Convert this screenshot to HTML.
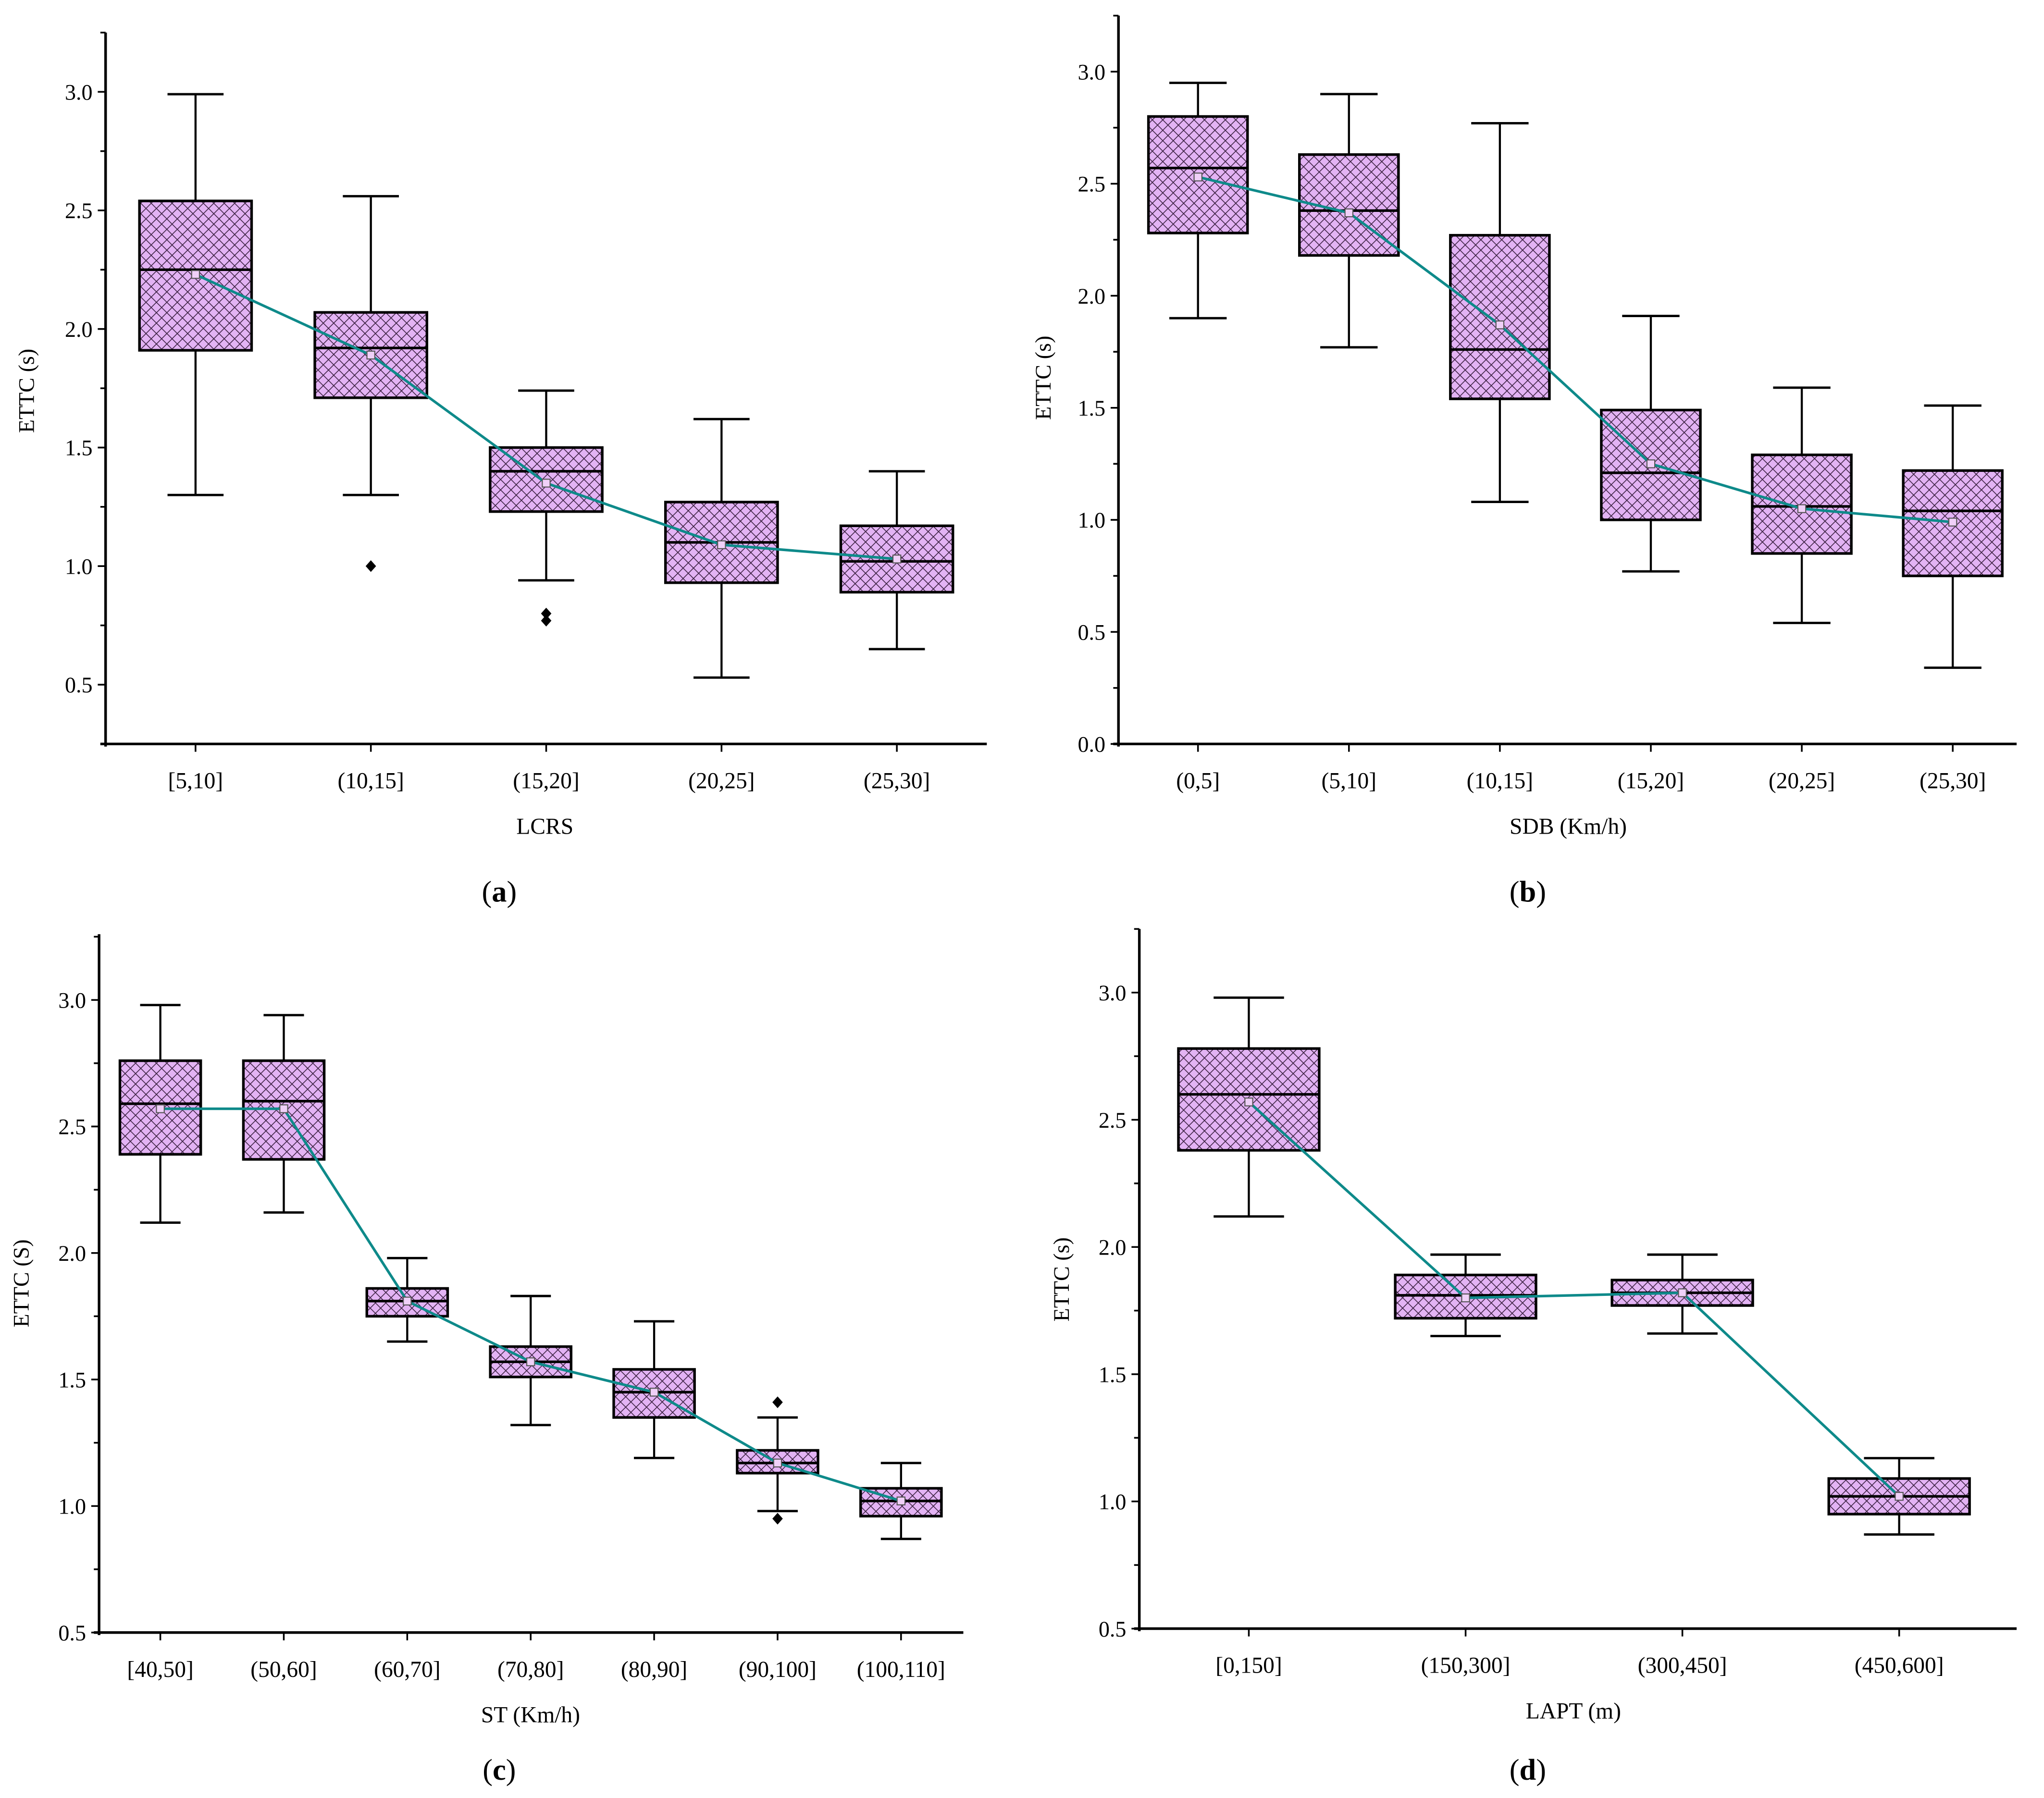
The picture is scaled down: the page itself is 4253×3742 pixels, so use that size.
<!DOCTYPE html>
<html><head><meta charset="utf-8"><style>
html,body{margin:0;padding:0;background:#fff;}
svg{display:block;font-family:"Liberation Serif",serif;}
</style></head><body>
<svg id="fig" width="4253" height="3742" viewBox="0 0 1568 1380" preserveAspectRatio="none" xmlns="http://www.w3.org/2000/svg">
<defs>
<pattern id="hatch" width="8" height="8" patternUnits="userSpaceOnUse">
<rect width="8" height="8" fill="#e3b3f4"/>
<path d="M0,0L8,8M8,0L0,8" stroke="#3a2040" stroke-width="0.6"/>
</pattern>
</defs>
</svg>
<script>
// Panel (a)
const catsA = ["[5,10]","(10,15]","(15,20]","(20,25]","(25,30]"];
const lowA = [1.30,1.30,0.94,0.53,0.65];
const q1A = [1.91,1.71,1.23,0.93,0.89];
const medA = [2.25,1.92,1.40,1.10,1.02];
const q3A = [2.54,2.07,1.50,1.27,1.17];
const highA = [2.99,2.56,1.74,1.62,1.40];
const meanA = [2.23,1.89,1.35,1.09,1.03];
const outA = [[],[1.0],[0.80,0.77],[],[]];
const ticksA = [0.5,1.0,1.5,2.0,2.5,3.0];
// Panel (b)
const catsB = ["(0,5]","(5,10]","(10,15]","(15,20]","(20,25]","(25,30]"];
const lowB = [1.90,1.77,1.08,0.77,0.54,0.34];
const q1B = [2.28,2.18,1.54,1.00,0.85,0.75];
const medB = [2.57,2.38,1.76,1.21,1.06,1.04];
const q3B = [2.80,2.63,2.27,1.49,1.29,1.22];
const highB = [2.95,2.90,2.77,1.91,1.59,1.51];
const meanB = [2.53,2.37,1.87,1.25,1.05,0.99];
const outB = [[],[],[],[],[],[]];
const ticksB = [0.0,0.5,1.0,1.5,2.0,2.5,3.0];
// Panel (c)
const catsC = ["[40,50]","(50,60]","(60,70]","(70,80]","(80,90]","(90,100]","(100,110]"];
const lowC = [2.12,2.16,1.65,1.32,1.19,0.98,0.87];
const q1C = [2.39,2.37,1.75,1.51,1.35,1.13,0.96];
const medC = [2.59,2.60,1.81,1.57,1.45,1.17,1.02];
const q3C = [2.76,2.76,1.86,1.63,1.54,1.22,1.07];
const highC = [2.98,2.94,1.98,1.83,1.73,1.35,1.17];
const meanC = [2.57,2.57,1.81,1.57,1.45,1.17,1.02];
const outC = [[],[],[],[],[],[1.41,0.95],[]];
const ticksC = [0.5,1.0,1.5,2.0,2.5,3.0];
// Panel (d)
const catsD = ["[0,150]","(150,300]","(300,450]","(450,600]"];
const lowD = [2.12,1.65,1.66,0.87];
const q1D = [2.38,1.72,1.77,0.95];
const medD = [2.60,1.81,1.82,1.02];
const q3D = [2.78,1.89,1.87,1.09];
const highD = [2.98,1.97,1.97,1.17];
const meanD = [2.57,1.80,1.82,1.02];
const outD = [[],[],[],[]];
const ticksD = [0.5,1.0,1.5,2.0,2.5,3.0];

const NS="http://www.w3.org/2000/svg";
const svg=document.getElementById('fig');
function mk(tag,attrs,parent){const e=document.createElementNS(NS,tag);for(const k in attrs)e.setAttribute(k,attrs[k]);(parent||svg).appendChild(e);return e;}

function panel(p){
  const g=mk('g',{});
  
  
  const y=v=>p.y0-(v-p.vmin)/(p.vmax-p.vmin)*(p.y0-p.ytop);
  const x=i=>p.x0+p.x1st+i*p.step;
  const ya=mk('line',{x1:p.x0,y1:p.ytop,x2:p.x0,y2:p.y0+2,stroke:'#000','stroke-width':2},g);
  
  
  const xa=mk('line',{x1:p.x0-4,y1:p.y0,x2:p.xend,y2:p.y0,stroke:'#000','stroke-width':2},g);
  
  
  for(let t=p.vmin;t<=p.vmax+1e-9;t+=0.25){
    const major=Math.abs(t*2-Math.round(t*2))<1e-6;
    mk('line',{x1:p.x0,y1:y(t),x2:p.x0-(major?6:4),y2:y(t),stroke:'#000','stroke-width':1.3},g);
  }
  p.ticks.forEach(t=>{
    const tl=mk('text',{x:p.x0-10,y:y(t)+6,'text-anchor':'end','font-size':17},g);
    tl.textContent=t.toFixed(1);
    
    
  });
  const yt=mk('text',{x:0,y:0,'text-anchor':'middle','font-size':17,transform:`translate(${p.ylx},${p.yly}) rotate(-90)`},g);
  yt.textContent=p.ytitle;
  
  
  p.cats.forEach((c,i)=>{
    const cx=x(i), hw=p.hw, cw=p.cw||p.hw*0.5;
    mk('line',{x1:cx,y1:p.y0,x2:cx,y2:p.y0+6,stroke:'#000','stroke-width':1.3},g);
    const xl=mk('text',{x:cx,y:p.y0+34,'text-anchor':'middle','font-size':17.5},g);
    xl.textContent=c;
    
    
    const bg=mk('g',{},g);
    
    
    mk('line',{x1:cx,y1:y(p.high[i]),x2:cx,y2:y(p.q3[i]),stroke:'#000','stroke-width':1.6},bg);
    mk('line',{x1:cx,y1:y(p.low[i]),x2:cx,y2:y(p.q1[i]),stroke:'#000','stroke-width':1.6},bg);
    mk('line',{x1:cx-cw,y1:y(p.high[i]),x2:cx+cw,y2:y(p.high[i]),stroke:'#000','stroke-width':1.8},bg);
    mk('line',{x1:cx-cw,y1:y(p.low[i]),x2:cx+cw,y2:y(p.low[i]),stroke:'#000','stroke-width':1.8},bg);
    mk('rect',{x:cx-hw,y:y(p.q3[i]),width:2*hw,height:y(p.q1[i])-y(p.q3[i]),fill:'url(#hatch)',stroke:'#000','stroke-width':2},bg);
    mk('line',{x1:cx-hw,y1:y(p.med[i]),x2:cx+hw,y2:y(p.med[i]),stroke:'#000','stroke-width':2},bg);
    p.out[i].forEach(o=>{
      const d=mk('path',{d:`M${cx},${y(o)-4.5}L${cx+4},${y(o)}L${cx},${y(o)+4.5}L${cx-4},${y(o)}Z`,fill:'#000'},bg);
      
      
    });
  });
  const pts=p.mean.map((m,i)=>x(i)+','+y(m)).join(' ');
  const ml=mk('polyline',{points:pts,fill:'none',stroke:'#0e8a8a','stroke-width':2},g);
  
  
  p.mean.forEach((m,i)=>{
    const s=mk('rect',{x:x(i)-3,y:y(m)-3,width:6,height:6,fill:'#f0d0f8',stroke:'#555','stroke-width':0.8},g);
    
    
  });
  const xt=mk('text',{x:p.xtx,y:p.y0+69,'text-anchor':'middle','font-size':17.5},g);
  xt.textContent=p.xtitle;
  
  
  const pl=mk('text',{x:p.plx,y:p.ply,'text-anchor':'middle','font-size':23},g);
  pl.innerHTML='(<tspan font-weight="bold">'+p.id+'</tspan>)';
  
  
}

panel({id:'a',x0:81,ytop:25,y0:571,xend:757,vmin:0.25,vmax:3.25,x1st:69,step:134.5,hw:43,cats:catsA,low:lowA,q1:q1A,med:medA,q3:q3A,high:highA,mean:meanA,out:outA,ticks:ticksA,ytitle:'ETTC (s)',ylx:26,yly:300,xtitle:'LCRS',xtx:418,plx:383,ply:692});
panel({id:'b',x0:858,ytop:12,y0:571,xend:1547,vmin:0,vmax:3.25,x1st:61,step:115.8,hw:38,cw:22,cats:catsB,low:lowB,q1:q1B,med:medB,q3:q3B,high:highB,mean:meanB,out:outB,ticks:ticksB,ytitle:'ETTC (s)',ylx:806,yly:290,xtitle:'SDB (Km/h)',xtx:1203,plx:1172,ply:692});
panel({id:'c',x0:76,ytop:717,y0:1253,xend:739,vmin:0.5,vmax:3.26,x1st:47,step:94.7,hw:31,cats:catsC,low:lowC,q1:q1C,med:medC,q3:q3C,high:highC,mean:meanC,out:outC,ticks:ticksC,ytitle:'ETTC (S)',ylx:22,yly:985,xtitle:'ST (Km/h)',xtx:407,plx:383,ply:1366});
panel({id:'d',x0:874,ytop:713,y0:1250,xend:1547,vmin:0.5,vmax:3.25,x1st:84,step:166.3,hw:54,cats:catsD,low:lowD,q1:q1D,med:medD,q3:q3D,high:highD,mean:meanD,out:outD,ticks:ticksD,ytitle:'ETTC (s)',ylx:820,yly:982,xtitle:'LAPT (m)',xtx:1207,plx:1172,ply:1366});
</script>
</body></html>
